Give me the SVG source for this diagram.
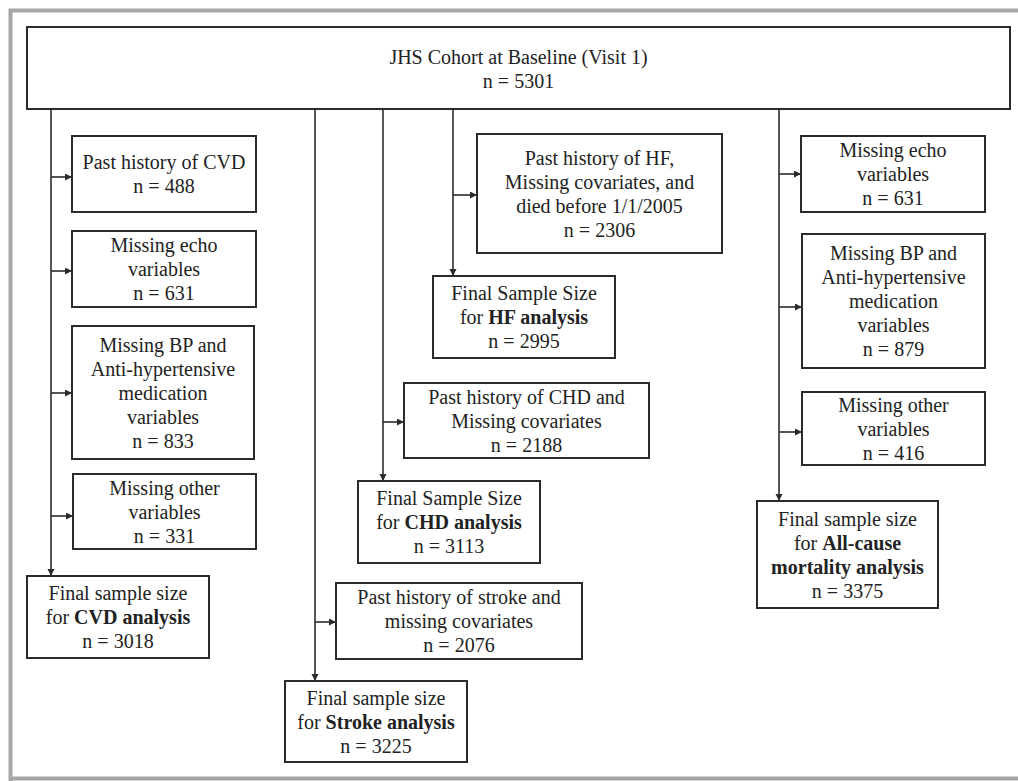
<svg xmlns="http://www.w3.org/2000/svg" width="1018" height="781" viewBox="0 0 1018 781">
<defs>
<style>
.box{fill:#fff;stroke:#2b2b2b;stroke-width:2}
.t{font-family:"Liberation Serif","Times New Roman",serif;font-size:20px;fill:#222;text-anchor:middle}
.b{font-weight:bold}
.ln{fill:none;stroke:#2b2b2b;stroke-width:1.6}
.frame{fill:none;stroke:#a6a6a6;stroke-width:4}
</style>
<marker id="ah" markerUnits="userSpaceOnUse" markerWidth="8" markerHeight="8" refX="7" refY="3.5" orient="auto">
<path d="M0,0 L7,3.5 L0,7 z" fill="#2b2b2b"/>
</marker>
</defs>
<rect width="1018" height="781" fill="#fff"/>
<path class="frame" d="M10.5,781 V10.5 H1018 M8.5,778.5 H1018"/>

<g id="connectors">
<line class="ln" x1="51" y1="109" x2="51" y2="576" marker-end="url(#ah)"/>
<line class="ln" x1="51" y1="177" x2="72" y2="177" marker-end="url(#ah)"/>
<line class="ln" x1="51" y1="271" x2="72" y2="271" marker-end="url(#ah)"/>
<line class="ln" x1="51" y1="393" x2="72" y2="393" marker-end="url(#ah)"/>
<line class="ln" x1="51" y1="516" x2="73" y2="516" marker-end="url(#ah)"/>
<line class="ln" x1="315" y1="109" x2="315" y2="681" marker-end="url(#ah)"/>
<line class="ln" x1="315" y1="622" x2="336" y2="622" marker-end="url(#ah)"/>
<line class="ln" x1="383" y1="109" x2="383" y2="481" marker-end="url(#ah)"/>
<line class="ln" x1="383" y1="422" x2="404" y2="422" marker-end="url(#ah)"/>
<line class="ln" x1="453" y1="109" x2="453" y2="276" marker-end="url(#ah)"/>
<line class="ln" x1="453" y1="195" x2="477" y2="195" marker-end="url(#ah)"/>
<line class="ln" x1="779" y1="109" x2="779" y2="501" marker-end="url(#ah)"/>
<line class="ln" x1="779" y1="174" x2="801" y2="174" marker-end="url(#ah)"/>
<line class="ln" x1="779" y1="307" x2="802" y2="307" marker-end="url(#ah)"/>
<line class="ln" x1="779" y1="432" x2="802" y2="432" marker-end="url(#ah)"/>
</g>

<g id="baseline">
<rect class="box" x="27" y="27" width="983" height="82"/>
<text class="t" x="518.5" y="64">JHS Cohort at Baseline (Visit 1)</text>
<text class="t" x="518.5" y="88">n = 5301</text>
</g>

<g id="cvd_history">
<rect class="box" x="72" y="136" width="184" height="76"/>
<text class="t" x="164" y="169">Past history of CVD</text>
<text class="t" x="164" y="193">n = 488</text>
</g>
<g id="cvd_echo">
<rect class="box" x="72" y="231" width="184" height="76"/>
<text class="t" x="164" y="252">Missing echo</text>
<text class="t" x="164" y="276">variables</text>
<text class="t" x="164" y="300">n = 631</text>
</g>
<g id="cvd_bp">
<rect class="box" x="72" y="326" width="182" height="133"/>
<text class="t" x="163" y="351.5">Missing BP and</text>
<text class="t" x="163" y="375.5">Anti-hypertensive</text>
<text class="t" x="163" y="399.5">medication</text>
<text class="t" x="163" y="423.5">variables</text>
<text class="t" x="163" y="447.5">n = 833</text>
</g>
<g id="cvd_other">
<rect class="box" x="73" y="474" width="183" height="75"/>
<text class="t" x="164.5" y="495">Missing other</text>
<text class="t" x="164.5" y="519">variables</text>
<text class="t" x="164.5" y="543">n = 331</text>
</g>
<g id="cvd_final">
<rect class="box" x="27" y="576" width="182" height="82"/>
<text class="t" x="118" y="600">Final sample size</text>
<text class="t" x="118" y="624">for <tspan class="b">CVD analysis</tspan></text>
<text class="t" x="118" y="648">n = 3018</text>
</g>

<g id="stroke_history">
<rect class="box" x="336" y="583" width="246" height="76"/>
<text class="t" x="459" y="604">Past history of stroke and</text>
<text class="t" x="459" y="628">missing covariates</text>
<text class="t" x="459" y="652">n = 2076</text>
</g>
<g id="stroke_final">
<rect class="box" x="285" y="681" width="182" height="81"/>
<text class="t" x="376" y="704.5">Final sample size</text>
<text class="t" x="376" y="728.5">for <tspan class="b">Stroke analysis</tspan></text>
<text class="t" x="376" y="752.5">n = 3225</text>
</g>

<g id="chd_history">
<rect class="box" x="404" y="383" width="245" height="75"/>
<text class="t" x="526.5" y="404">Past history of CHD and</text>
<text class="t" x="526.5" y="428">Missing covariates</text>
<text class="t" x="526.5" y="452">n = 2188</text>
</g>
<g id="chd_final">
<rect class="box" x="358" y="481" width="182" height="82"/>
<text class="t" x="449" y="505">Final Sample Size</text>
<text class="t" x="449" y="529">for <tspan class="b">CHD analysis</tspan></text>
<text class="t" x="449" y="553">n = 3113</text>
</g>

<g id="hf_history">
<rect class="box" x="477" y="134" width="245" height="119"/>
<text class="t" x="599.5" y="164.5">Past history of HF,</text>
<text class="t" x="599.5" y="188.5">Missing covariates, and</text>
<text class="t" x="599.5" y="212.5">died before 1/1/2005</text>
<text class="t" x="599.5" y="236.5">n = 2306</text>
</g>
<g id="hf_final">
<rect class="box" x="433" y="276" width="182" height="82"/>
<text class="t" x="524" y="300">Final Sample Size</text>
<text class="t" x="524" y="324">for <tspan class="b">HF analysis</tspan></text>
<text class="t" x="524" y="348">n = 2995</text>
</g>

<g id="mort_echo">
<rect class="box" x="801" y="136" width="184" height="76"/>
<text class="t" x="893" y="157">Missing echo</text>
<text class="t" x="893" y="181">variables</text>
<text class="t" x="893" y="205">n = 631</text>
</g>
<g id="mort_bp">
<rect class="box" x="802" y="234" width="183" height="134"/>
<text class="t" x="893.5" y="260">Missing BP and</text>
<text class="t" x="893.5" y="284">Anti-hypertensive</text>
<text class="t" x="893.5" y="308">medication</text>
<text class="t" x="893.5" y="332">variables</text>
<text class="t" x="893.5" y="356">n = 879</text>
</g>
<g id="mort_other">
<rect class="box" x="802" y="392" width="183" height="73"/>
<text class="t" x="893.5" y="412">Missing other</text>
<text class="t" x="893.5" y="436">variables</text>
<text class="t" x="893.5" y="460">n = 416</text>
</g>
<g id="mort_final">
<rect class="box" x="757" y="501" width="181" height="107"/>
<text class="t" x="847.5" y="525.5">Final sample size</text>
<text class="t" x="847.5" y="549.5">for <tspan class="b">All-cause</tspan></text>
<text class="t" x="847.5" y="573.5" font-weight="bold">mortality analysis</text>
<text class="t" x="847.5" y="597.5">n = 3375</text>
</g>
</svg>
